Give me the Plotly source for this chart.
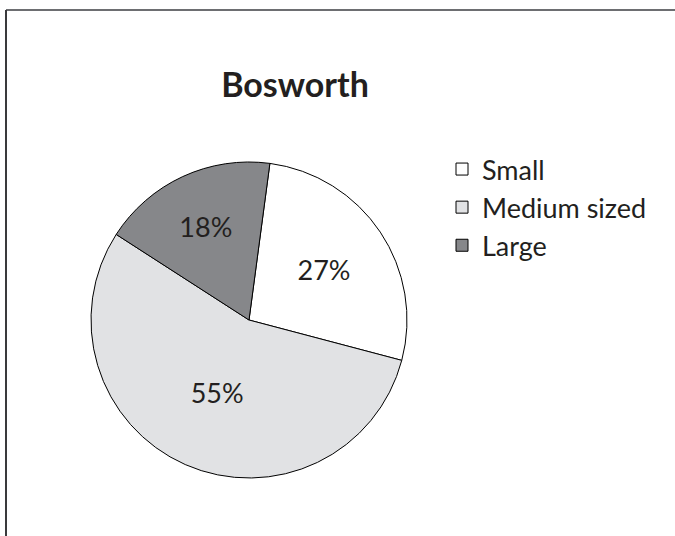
import plotly.graph_objects as go

labels = ["Small", "Medium sized", "Large"]
values = [27, 55, 18]
colors = ["#ffffff", "#e1e2e4", "#86878a"]
title = "Bosworth"

W, H = 675, 536
cx, cy, r = 249, 320, 158

fig = go.Figure(go.Pie(
    labels=labels, values=values, sort=False, direction="clockwise",
    rotation=7.6,
    marker=dict(colors=colors, line=dict(color="#000000", width=1)),
    textinfo="percent", texttemplate="%{percent:.0%}",
    textposition="inside", insidetextorientation="horizontal",
    textfont=dict(family="Lato", size=27, color="#231f20"),
    domain=dict(x=[(cx - r) / W, (cx + r) / W], y=[1 - (cy + r) / H, 1 - (cy - r) / H]),
    showlegend=True,
))

fig.update_layout(
    width=W, height=H, margin=dict(l=0, r=0, t=0, b=0),
    paper_bgcolor="white", plot_bgcolor="white",
    title=dict(text="<b>" + title + "</b>", x=295 / W, xanchor="center", y=1 - 85 / H, yanchor="middle",
               font=dict(family="Lato", size=34, color="#231f20")),
    legend=dict(x=442 / W, y=1 - 145 / H, xanchor="left", yanchor="top",
                font=dict(family="Lato", size=27, color="#231f20"), itemwidth=30,
                tracegroupgap=0),
    shapes=[
        dict(type="line", xref="paper", yref="paper", x0=6 / W, x1=1, y0=1 - 10 / H, y1=1 - 10 / H,
             line=dict(color="#6d6e71", width=2)),
        dict(type="line", xref="paper", yref="paper", x0=6 / W, x1=6 / W, y0=0, y1=1 - 10 / H,
             line=dict(color="#3a3a3c", width=2)),
    ],
)

fig.write_html("out.html")
